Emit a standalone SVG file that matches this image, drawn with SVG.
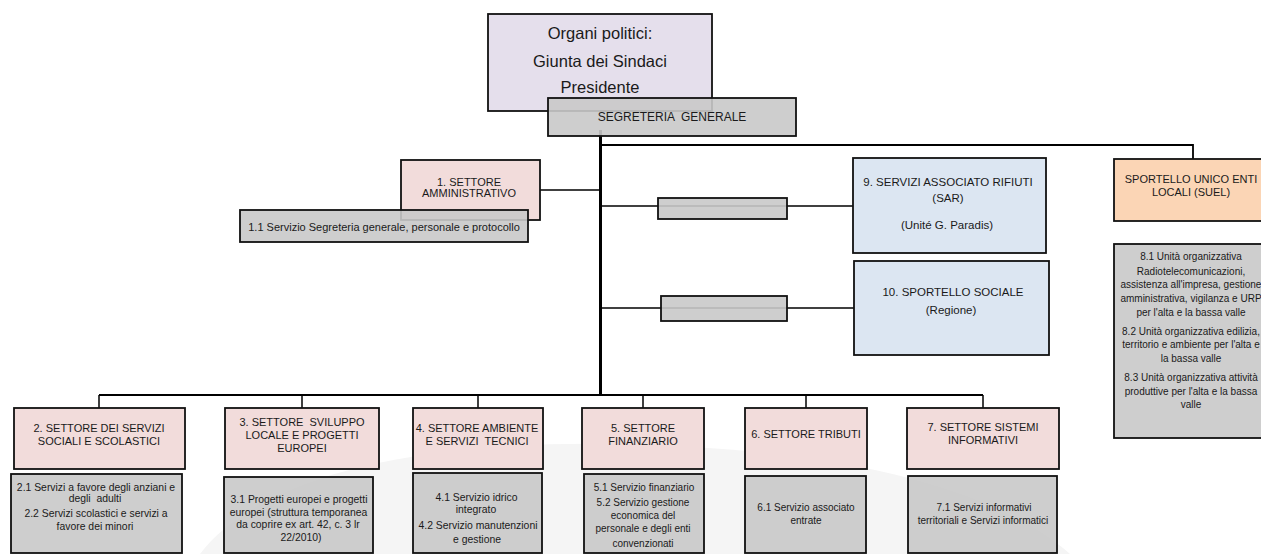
<svg xmlns="http://www.w3.org/2000/svg" width="1261" height="554" viewBox="0 0 1261 554">
<style>
text{font-family:"Liberation Sans",Arial,sans-serif;fill:#1a1a1a;text-anchor:middle}
.box{stroke:#111;stroke-width:1.8}
.pol{fill:#e5dfec}
.grey{fill:#c9c9c9;fill-opacity:0.9}
.set{fill:#f2dcdb}
.blue{fill:#dce6f2}
.suel{fill:#fbd5b5}
.h{font-size:11px}
.s{font-size:10px}
.n{font-size:10.4px}
.c{font-size:11.5px}
.ln{stroke:#000;fill:none}
</style>
<path d="M200 554 C260 475 420 440 620 444 C820 448 990 482 1070 554 Z" fill="#f5f5f5"/>
<g id="connectors">
<line class="ln" x1="600.5" y1="130" x2="600.5" y2="396" stroke-width="3"/>
<polyline class="ln" points="600,145 1193,145 1193,159" stroke-width="1.8"/>
<line class="ln" x1="540" y1="190" x2="600" y2="190" stroke-width="1.5"/>
<line class="ln" x1="600" y1="206" x2="853" y2="206" stroke-width="1.5"/>
<line class="ln" x1="600" y1="308" x2="854" y2="308" stroke-width="1.5"/>
<line class="ln" x1="99" y1="395" x2="983" y2="395" stroke-width="2"/>
<line class="ln" x1="99" y1="395" x2="99" y2="408" stroke-width="1.5"/>
<line class="ln" x1="302" y1="395" x2="302" y2="408" stroke-width="1.5"/>
<line class="ln" x1="478" y1="395" x2="478" y2="408" stroke-width="1.5"/>
<line class="ln" x1="643" y1="395" x2="643" y2="408" stroke-width="1.5"/>
<line class="ln" x1="806" y1="395" x2="806" y2="408" stroke-width="1.5"/>
<line class="ln" x1="983" y1="395" x2="983" y2="408" stroke-width="1.5"/>
<rect class="box grey" x="658" y="198" width="129" height="21"/>
<rect class="box grey" x="661" y="296" width="126" height="25"/>
</g>
<g id="organi">
<rect class="box pol" x="488" y="14" width="224" height="97"/>
<text x="600" y="39" style="font-size:16.5px">Organi politici:</text>
<text x="600" y="67" style="font-size:16.5px">Giunta dei Sindaci</text>
<text x="600" y="93" style="font-size:16.5px">Presidente</text>
</g>
<g id="segreteria">
<rect class="box grey" x="548" y="98" width="248" height="38"/>
<text x="672" y="121" style="font-size:12px" xml:space="preserve">SEGRETERIA  GENERALE</text>
</g>
<g id="settore1">
<rect class="box set" x="401" y="160" width="139" height="60"/>
<text class="h" x="469" y="186">1. SETTORE</text>
<text class="h" x="469" y="197">AMMINISTRATIVO</text>
</g>
<g id="servizio1-1">
<rect class="box grey" x="240" y="210" width="288" height="32"/>
<text x="384" y="231" style="font-size:11px">1.1 Servizio Segreteria generale, personale e protocollo</text>
</g>
<g id="sar">
<rect class="box blue" x="853" y="158" width="193" height="95"/>
<text class="c" x="948" y="186">9. SERVIZI ASSOCIATO RIFIUTI</text>
<text class="c" x="948" y="202">(SAR)</text>
<text class="c" x="947" y="229">(Unité G. Paradis)</text>
</g>
<g id="sportello-sociale">
<rect class="box blue" x="854" y="261" width="195" height="94"/>
<text class="c" x="953" y="296">10. SPORTELLO SOCIALE</text>
<text class="c" x="951" y="314">(Regione)</text>
</g>
<g id="suel">
<rect class="box suel" x="1114" y="159" width="160" height="62"/>
<text class="h" x="1191" y="183">SPORTELLO UNICO ENTI</text>
<text class="h" x="1191" y="196">LOCALI (SUEL)</text>
</g>
<g id="suel-unita">
<rect class="box grey" x="1114" y="244" width="160" height="194"/>
<text class="s" x="1191" y="260">8.1 Unità organizzativa</text>
<text class="s" x="1191" y="275">Radiotelecomunicazioni,</text>
<text class="s" x="1191" y="288">assistenza all'impresa, gestione</text>
<text class="s" x="1191" y="302">amministrativa, vigilanza e URP</text>
<text class="s" x="1191" y="316">per l'alta e la bassa valle</text>
<text class="s" x="1191" y="335">8.2 Unità organizzativa edilizia,</text>
<text class="s" x="1191" y="348">territorio e ambiente per l'alta e</text>
<text class="s" x="1191" y="362">la bassa valle</text>
<text class="s" x="1191" y="381">8.3 Unità organizzativa attività</text>
<text class="s" x="1191" y="395">produttive per l'alta e la bassa</text>
<text class="s" x="1191" y="408">valle</text>
</g>
<g id="settore2">
<rect class="box set" x="14" y="408" width="171" height="61"/>
<text class="h" x="99" y="432">2. SETTORE DEI SERVIZI</text>
<text class="h" x="99" y="445">SOCIALI E SCOLASTICI</text>
</g>
<g id="servizi2">
<rect class="box grey" x="11" y="474" width="171" height="79"/>
<text class="n" x="96" y="491">2.1 Servizi a favore degli anziani e</text>
<text class="n" x="95" y="502" xml:space="preserve">degli  adulti</text>
<text class="n" x="96" y="517">2.2 Servizi scolastici e servizi a</text>
<text class="n" x="95" y="530">favore dei minori</text>
</g>
<g id="settore3">
<rect class="box set" x="225" y="408" width="154" height="61"/>
<text class="h" x="302" y="426" xml:space="preserve">3. SETTORE  SVILUPPO</text>
<text class="h" x="302" y="439">LOCALE E PROGETTI</text>
<text class="h" x="302" y="452">EUROPEI</text>
</g>
<g id="servizi3">
<rect class="box grey" x="224" y="477" width="149" height="76"/>
<text class="n" x="299" y="503">3.1 Progetti europei e progetti</text>
<text class="n" x="298.5" y="516">europei (struttura temporanea</text>
<text class="n" x="298" y="528">da coprire ex art. 42, c. 3 lr</text>
<text class="n" x="301" y="541">22/2010)</text>
</g>
<g id="settore4">
<rect class="box set" x="413" y="408" width="130" height="61"/>
<text class="h" x="477" y="432">4. SETTORE AMBIENTE</text>
<text class="h" x="477" y="445" xml:space="preserve">E SERVIZI  TECNICI</text>
</g>
<g id="servizi4">
<rect class="box grey" x="413" y="473" width="129" height="80"/>
<text class="n" x="476.5" y="501">4.1 Servizio idrico</text>
<text class="n" x="476" y="513">integrato</text>
<text class="n" x="478" y="529">4.2 Servizio manutenzioni</text>
<text class="n" x="477" y="543">e gestione</text>
</g>
<g id="settore5">
<rect class="box set" x="582" y="408" width="122" height="61"/>
<text class="h" x="643" y="432">5. SETTORE</text>
<text class="h" x="643" y="445">FINANZIARIO</text>
</g>
<g id="servizi5">
<rect class="box grey" x="584" y="474" width="120" height="79"/>
<text class="s" x="644" y="491">5.1 Servizio finanziario</text>
<text class="s" x="643" y="506">5.2 Servizio gestione</text>
<text class="s" x="643" y="519">economica del</text>
<text class="s" x="643" y="532">personale e degli enti</text>
<text class="s" x="643" y="547">convenzionati</text>
</g>
<g id="settore6">
<rect class="box set" x="745" y="408" width="122" height="61"/>
<text class="h" x="806" y="438">6. SETTORE TRIBUTI</text>
</g>
<g id="servizi6">
<rect class="box grey" x="745" y="476" width="121" height="77"/>
<text class="s" x="806" y="511">6.1 Servizio associato</text>
<text class="s" x="806" y="524">entrate</text>
</g>
<g id="settore7">
<rect class="box set" x="907" y="408" width="152" height="61"/>
<text class="h" x="983" y="431">7. SETTORE SISTEMI</text>
<text class="h" x="983" y="444">INFORMATIVI</text>
</g>
<g id="servizi7">
<rect class="box grey" x="908" y="476" width="149" height="77"/>
<text class="s" x="984" y="511">7.1 Servizi informativi</text>
<text class="s" x="983" y="524">territoriali e Servizi informatici</text>
</g>
</svg>
